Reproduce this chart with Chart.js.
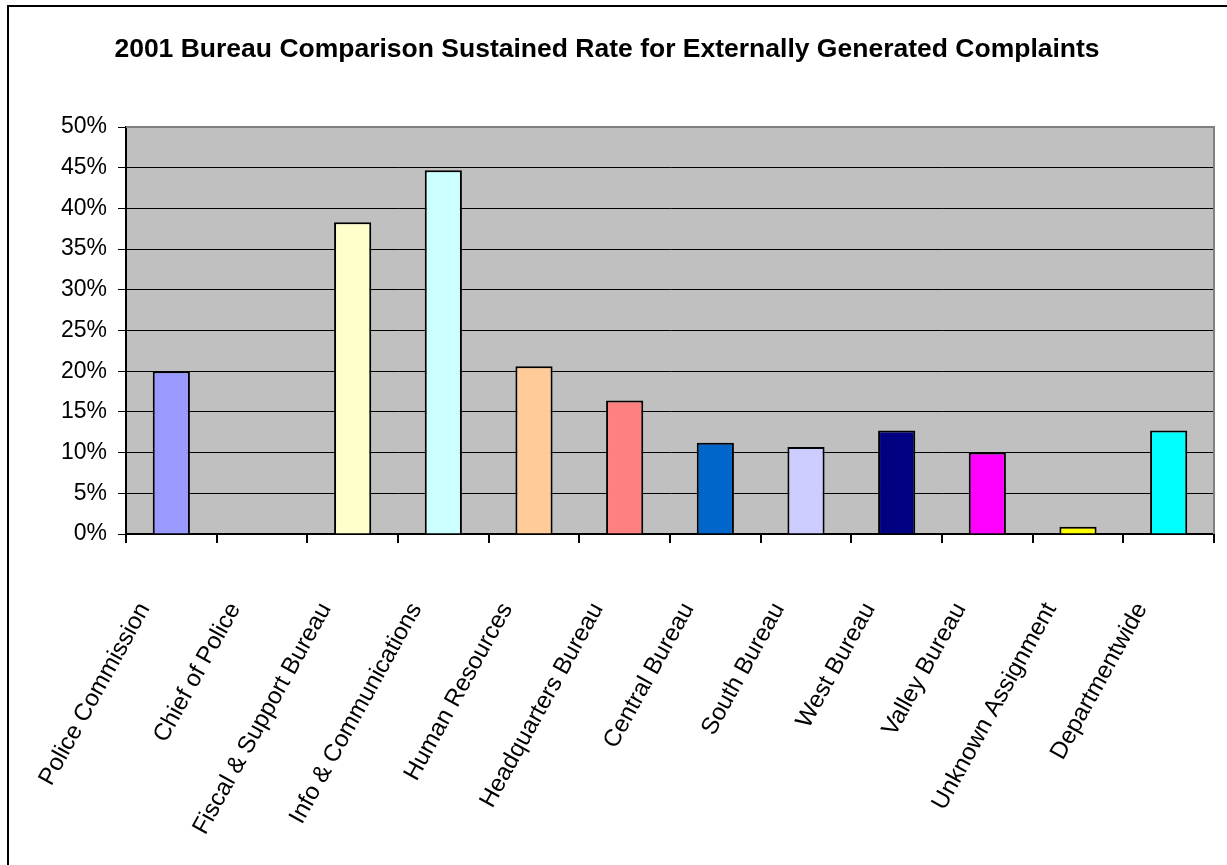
<!DOCTYPE html>
<html>
<head>
<meta charset="utf-8">
<script src="https://cdn.jsdelivr.net/npm/chart.js@4/dist/chart.umd.min.js"></script>
<style>
  html, body { margin: 0; padding: 0; background: #ffffff; }
  #wrap { position: relative; width: 1227px; height: 865px; }
</style>
</head>
<body>
<div id="wrap"><canvas id="c" width="1227" height="865"></canvas></div>
<script>
const chartTitle = '2001 Bureau Comparison Sustained Rate for Externally Generated Complaints';
const categories = [
  'Police Commission', 'Chief of Police', 'Fiscal & Support Bureau', 'Info & Communications',
  'Human Resources', 'Headquarters Bureau', 'Central Bureau', 'South Bureau',
  'West Bureau', 'Valley Bureau', 'Unknown Assignment', 'Departmentwide'
];
const sustainedRate = [20.0, 0, 38.3, 44.7, 20.6, 16.4, 11.2, 10.7, 12.7, 10.0, 0.9, 12.7];
const barColors = [
  '#9999FF', '#993366', '#FFFFCC', '#CCFFFF', '#FFCC99', '#FF8080',
  '#0066CC', '#CCCCFF', '#000080', '#FF00FF', '#FFFF00', '#00FFFF'
];
const yTickMin = 0, yTickMax = 50, yTickStep = 5;

const FONT = "'Liberation Sans', Arial, sans-serif";

const framePlugin = {
  id: 'frame',
  beforeDraw(chart) {
    const { ctx, chartArea: a } = chart;
    ctx.save();
    ctx.fillStyle = '#ffffff';
    ctx.fillRect(0, 0, chart.width, chart.height);
    ctx.fillStyle = '#C0C0C0';
    ctx.fillRect(a.left, a.top, a.right - a.left, a.bottom - a.top);
    ctx.restore();
  },
  afterDatasetsDraw(chart) {
    const { ctx, chartArea: a } = chart;
    ctx.save();
    ctx.strokeStyle = '#808080';
    ctx.lineWidth = 2;
    ctx.beginPath();
    ctx.moveTo(a.left, a.top);
    ctx.lineTo(a.right, a.top);
    ctx.lineTo(a.right, a.bottom);
    ctx.stroke();
    ctx.restore();
  },
  afterDraw(chart) {
    const { ctx } = chart;
    ctx.save();
    ctx.fillStyle = '#000000';
    ctx.fillRect(7, 5, 2, chart.height - 5);
    ctx.fillRect(7, 5, chart.width - 7, 2);
    ctx.restore();
  }
};

new Chart(document.getElementById('c'), {
  type: 'bar',
  data: {
    labels: categories,
    datasets: [{
      data: sustainedRate,
      backgroundColor: barColors,
      borderColor: '#000000',
      borderWidth: 2,
      barPercentage: 0.41,
      categoryPercentage: 1.0
    }]
  },
  options: {
    responsive: false,
    animation: false,
    devicePixelRatio: 1,
    layout: { padding: { left: 0, right: 13, top: 0, bottom: 0 } },
    plugins: {
      legend: { display: false },
      tooltip: { enabled: false },
      title: {
        display: true,
        text: chartTitle,
        color: '#000000',
        font: { family: FONT, size: 26.5, weight: 'bold', lineHeight: 1.2 },
        padding: { top: 34, bottom: 61.2 }
      }
    },
    scales: {
      x: {
        grid: {
          offset: true,
          drawOnChartArea: false,
          drawTicks: true,
          tickLength: 9,
          color: '#000000',
          lineWidth: 2
        },
        border: { display: true, color: '#000000', width: 2 },
        ticks: {
          autoSkip: false,
          maxRotation: 61,
          minRotation: 61,
          padding: 55,
          labelOffset: -27,
          color: '#000000',
          font: { family: FONT, size: 24 }
        },
        afterFit(scale) {
          scale.height = 865 - 534;
          scale.paddingLeft = 0;
          scale.paddingRight = 0;
        }
      },
      y: {
        min: yTickMin,
        max: yTickMax,
        grid: {
          color: '#000000',
          lineWidth: 1,
          drawTicks: true,
          tickLength: 8
        },
        border: { display: true, color: '#000000', width: 2 },
        ticks: {
          stepSize: yTickStep,
          padding: 11,
          color: '#000000',
          font: { family: FONT, size: 23 },
          callback: v => v + '%'
        },
        afterFit(scale) { scale.width = 126; }
      }
    }
  },
  plugins: [framePlugin]
});
</script>
</body>
</html>
